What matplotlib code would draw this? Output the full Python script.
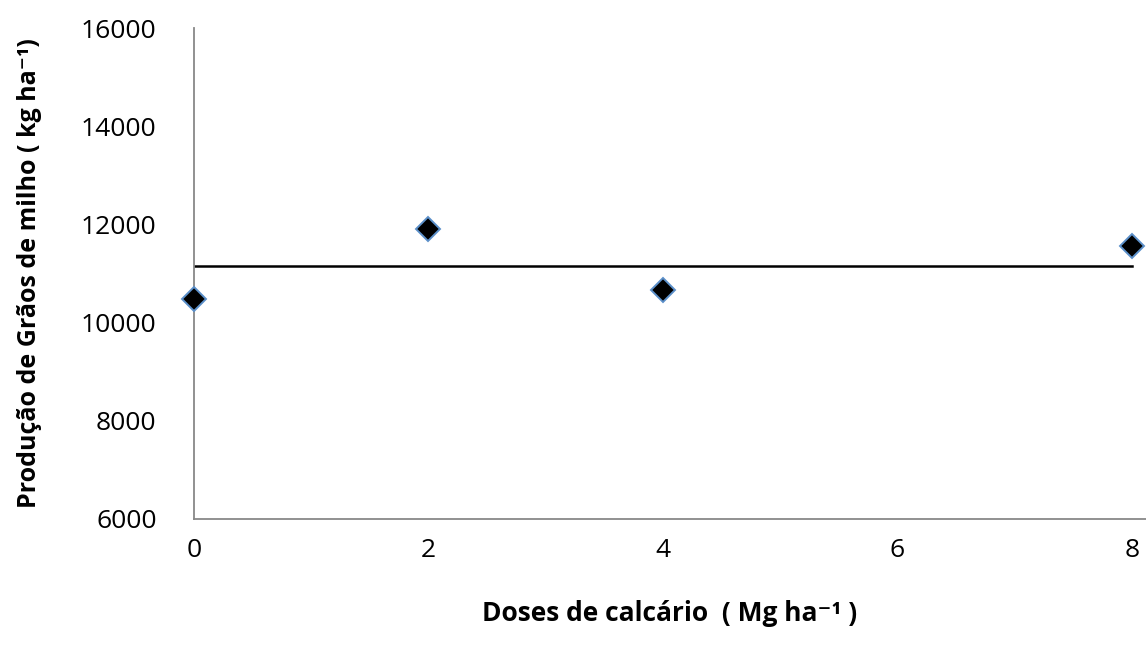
import matplotlib.pyplot as plt

# Produção de grãos de milho em função das doses de calcário
doses = [0, 2, 4, 8]
producao = [10490, 11900, 10670, 11550]
# linha da média (sem efeito significativo)
linha_x = [0, 8]
linha_y = [11150, 11150]

plt.rcParams['font.family'] = ['Open Sans', 'DejaVu Sans']

fig = plt.figure(figsize=(11.46, 6.48), dpi=100)
ax = fig.add_axes([194 / 1146, 1 - 519 / 648, 1 - 194 / 1146, (519 - 28) / 648])

ax.plot(linha_x, linha_y, color='black', linewidth=1.8, zorder=2)
ax.plot(doses, producao, linestyle='none', marker='D', markersize=12,
        markerfacecolor='black', markeredgecolor='#5b8fc9',
        markeredgewidth=1.4, zorder=3, clip_on=False)

ax.set_xlim(0, 8.12)
ax.set_ylim(6000, 16000)
ax.set_xticks([0, 2, 4, 6, 8])
ax.set_yticks([6000, 8000, 10000, 12000, 14000, 16000])
ax.tick_params(length=0, labelsize=19, colors='black', pad=14)
ax.tick_params(axis='y', pad=27)

for side in ['top', 'right']:
    ax.spines[side].set_visible(False)
for side in ['left', 'bottom']:
    ax.spines[side].set_color('#888888')
    ax.spines[side].set_linewidth(1.3)

ax.set_xlabel('Doses de calcário  ( Mg ha⁻¹ )', fontsize=19,
              fontweight='bold', labelpad=26)
ax.set_ylabel('Produção de Grãos de milho ( kg ha⁻¹)', fontsize=18,
              fontweight='bold', labelpad=28)

fig.savefig('out.png', dpi=100)
